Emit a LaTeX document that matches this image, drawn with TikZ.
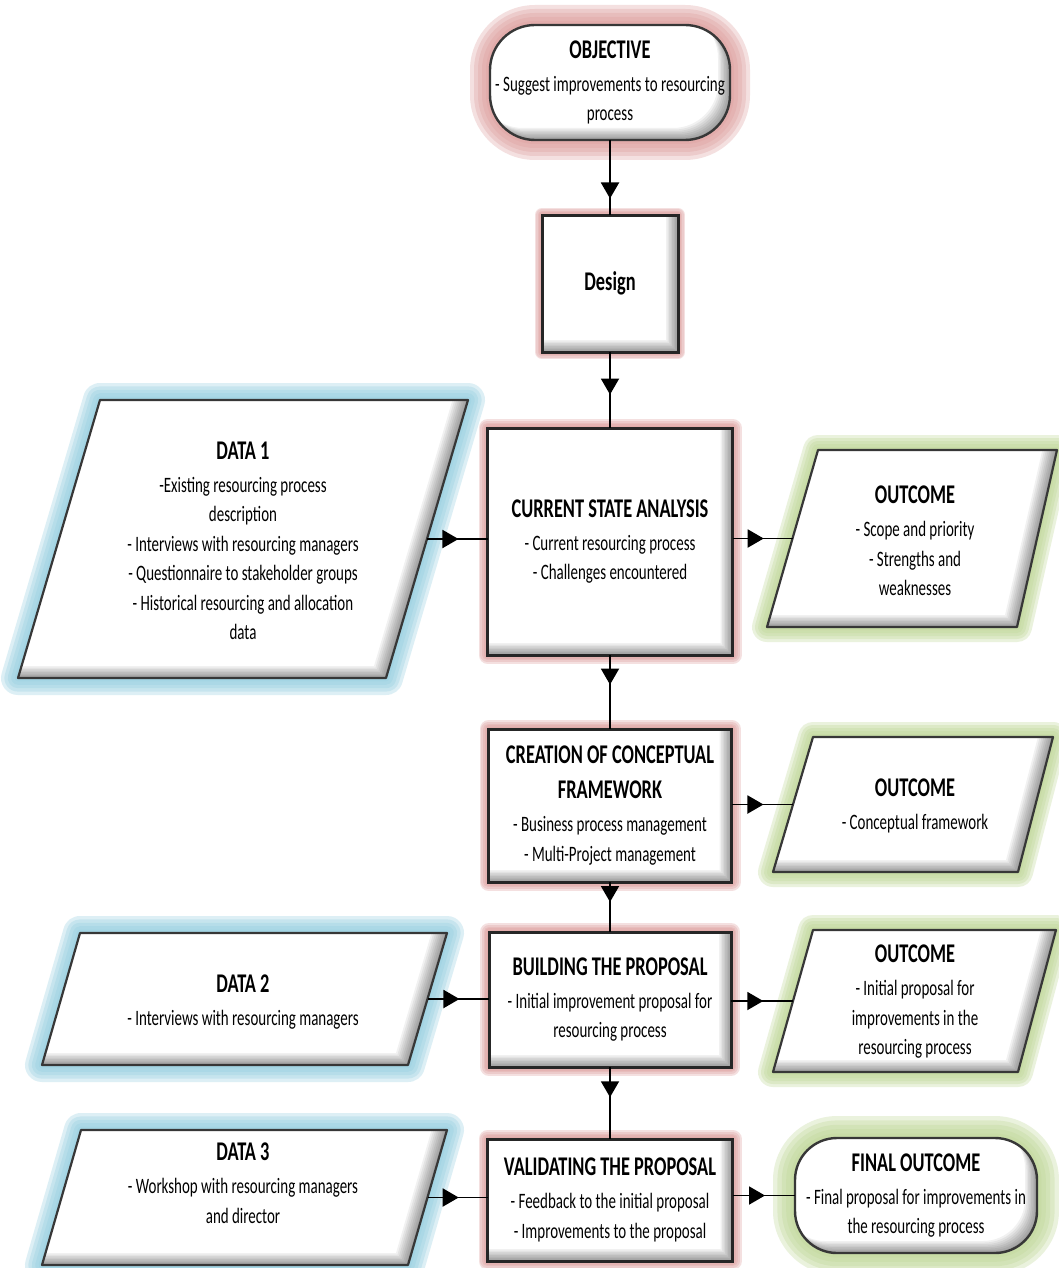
\documentclass[tikz,border=0pt]{standalone}
\usepackage{fontspec}
\setmainfont{Carlito}[FakeStretch=0.68]
\usetikzlibrary{arrows.meta,decorations.markings,calc}
\pgfdeclarelayer{bg}
\pgfsetlayers{bg,main}

\definecolor{glowpink}{RGB}{222,160,159}
\definecolor{glowblue}{RGB}{150,207,224}
\definecolor{glowgreen}{RGB}{192,215,152}
\definecolor{edgegray}{RGB}{55,55,55}

% bold heading line inside a box
\newcommand\ttl[1]{{\fontsize{27}{33}\selectfont\bfseries #1}}

% outline paths, optionally shifted by (#2,#2)
\newcommand\parpath[2]{([shift={(#2,#2)}]#1tl) -- ([shift={(#2,#2)}]#1tr) -- ([shift={(#2,#2)}]#1br) -- ([shift={(#2,#2)}]#1bl) -- cycle}
\newcommand\boxpath[2]{([shift={(#2,#2)}]#1.north west) rectangle ([shift={(#2,#2)}]#1.south east)}

% glow, white body and bottom-right bevel of a shape
\newcommand\shapefx[5]{%
  \foreach \k in {1,...,5}{%
    \pgfmathsetmacro\gw{2*#4*\k/5}%
    \draw[#3, line width=\gw pt, opacity=0.32, line join=round, #5] #1{#2}{0};}
  \fill[white, #5] #1{#2}{0};
  \begin{scope}
    \clip[#5] #1{#2}{0};
    \foreach \s in {1.5,3,...,12}{%
      \fill[black, opacity=0.055, even odd rule, #5] (-60,-60) rectangle (1200,1400) #1{#2}{-\s};}
  \end{scope}}

\tikzset{
  body/.style={font=\fontsize{22}{29.5}\selectfont, align=center, inner sep=0pt, outer sep=0pt},
  flow/.style={line width=1.9pt, black, postaction={decorate},
    decoration={markings, mark=at position #1 with {\arrow{Triangle[length=16pt,width=18pt]}}}},
}

\begin{document}
\begin{tikzpicture}[x=1pt,y=-1pt]
\useasboundingbox (0,0) rectangle (1058,1268);
\begin{pgfonlayer}{bg}
  \fill[white] (0,0) rectangle (1058,1268);
\end{pgfonlayer}

% ---- process column ----
\node[body, minimum width=240pt, minimum height=115pt] (obj) at (610,82.5)
  {\ttl{OBJECTIVE}\\[3.5pt]- Suggest improvements to resourcing\\process};
\node[body, minimum width=136pt, minimum height=137pt] (des) at (610,283.5) {\ttl{Design}};
\node[body, minimum width=245pt, minimum height=227pt] (csa) at (610,541.5)
  {\ttl{CURRENT STATE ANALYSIS}\\[3.5pt]- Current resourcing process\\- Challenges encountered};
\node[body, minimum width=243pt, minimum height=153pt] (ccf) at (610,805.5)
  {\ttl{CREATION OF CONCEPTUAL}\\[6pt]\ttl{FRAMEWORK}\\[3.5pt]- Business process management\\- Multi-Project management};
\node[body, minimum width=242pt, minimum height=135pt] (bp) at (610,999.5)
  {\ttl{BUILDING THE PROPOSAL}\\[3.5pt]- Initial improvement proposal for\\resourcing process};
\node[body, minimum width=245pt, minimum height=122pt] (vp) at (610,1200)
  {\ttl{VALIDATING THE PROPOSAL}\\[3.5pt]- Feedback to the initial proposal\\- Improvements to the proposal};
\node[body, minimum width=242pt, minimum height=115pt] (fin) at (916,1195.5)
  {\ttl{FINAL OUTCOME}\\[3.5pt]- Final proposal for improvements in\\the resourcing process};

% ---- data inputs ----
\coordinate (d1tl) at (100,400); \coordinate (d1tr) at (468,400);
\coordinate (d1br) at (386,678); \coordinate (d1bl) at (18,678);
\node[body] (d1) at (243,541)
  {\ttl{DATA 1}\\[3.5pt]-Existing resourcing process\\description\\- Interviews with resourcing managers\\- Questionnaire to stakeholder groups\\- Historical resourcing and allocation\\data};
\coordinate (d2tl) at (80,933); \coordinate (d2tr) at (447,933);
\coordinate (d2br) at (408,1065); \coordinate (d2bl) at (42,1065);
\node[body] (d2) at (243,1002.5) {\ttl{DATA 2}\\[3.5pt]- Interviews with resourcing managers};
\coordinate (d3tl) at (81,1130); \coordinate (d3tr) at (447,1130);
\coordinate (d3br) at (408,1265); \coordinate (d3bl) at (42,1265);
\node[body] (d3) at (243,1183) {\ttl{DATA 3}\\[3.5pt]- Workshop with resourcing managers\\and director};

% ---- outcomes ----
\coordinate (o1tl) at (818,450); \coordinate (o1tr) at (1057,450);
\coordinate (o1br) at (1017,627); \coordinate (o1bl) at (767,627);
\node[body] (o1) at (915,541) {\ttl{OUTCOME}\\[3.5pt]- Scope and priority\\- Strengths and\\weaknesses};
\coordinate (o2tl) at (813,737); \coordinate (o2tr) at (1053,737);
\coordinate (o2br) at (1018,872); \coordinate (o2bl) at (773,872);
\node[body] (o2) at (915,806) {\ttl{OUTCOME}\\[3.5pt]- Conceptual framework};
\coordinate (o3tl) at (813,930); \coordinate (o3tr) at (1056,930);
\coordinate (o3br) at (1018,1072); \coordinate (o3bl) at (773,1072);
\node[body] (o3) at (915,1002) {\ttl{OUTCOME}\\[3.5pt]- Initial proposal for\\improvements in the\\resourcing process};

% connection points on the slanted sides
\coordinate (d1r) at ($(d1tr)!0.5!(d1br)$);
\coordinate (d2r) at ($(d2tr)!0.5!(d2br)$);
\coordinate (d3r) at ($(d3tr)!0.5!(d3br)$);
\coordinate (o1l) at ($(o1tl)!0.5!(o1bl)$);
\coordinate (o2l) at ($(o2tl)!0.5!(o2bl)$);
\coordinate (o3l) at ($(o3tl)!0.5!(o3bl)$);

% ---- shape bodies ----
\begin{pgfonlayer}{bg}
  \shapefx{\boxpath}{obj}{glowpink}{20}{rounded corners=45pt}
  \draw[edgegray, line width=2.4pt, rounded corners=45pt] \boxpath{obj}{0};
  \shapefx{\boxpath}{fin}{glowgreen}{22}{rounded corners=42pt}
  \draw[edgegray, line width=2.4pt, rounded corners=42pt] \boxpath{fin}{0};
  \foreach \b/\g in {des/7,csa/9,ccf/9,bp/9,vp/9}{
    \shapefx{\boxpath}{\b}{glowpink}{\g}{}
    \draw[black!85, line width=3pt] \boxpath{\b}{0};
  }
  \foreach \p in {d1,d2,d3}{
    \shapefx{\parpath}{\p}{glowblue}{17}{}
    \draw[edgegray, line width=2.2pt, line join=round] \parpath{\p}{0};
  }
  \foreach \p in {o1,o2,o3}{
    \shapefx{\parpath}{\p}{glowgreen}{15}{}
    \draw[edgegray, line width=2.2pt, line join=round] \parpath{\p}{0};
  }
\end{pgfonlayer}

% ---- connectors ----
\draw[flow=0.78] (obj.south) -- (des.north);
\draw[flow=0.56] (des.south) -- (csa.north);
\draw[flow=0.4] (csa.south) -- (ccf.north);
\draw[flow=0.4] (ccf.south) -- (bp.north);
\draw[flow=0.42] (bp.south) -- (vp.north);
\draw[flow=0.52] (d1r) -- (d1r -| csa.west);
\draw[flow=0.52] (o1l -| csa.east) -- (o1l);
\draw[flow=0.52] (o2l -| ccf.east) -- (o2l);
\draw[flow=0.52] (d2r) -- (d2r -| bp.west);
\draw[flow=0.52] (o3l -| bp.east) -- (o3l);
\draw[flow=0.52] (d3r) -- (d3r -| vp.west);
\draw[flow=0.52] (fin.west -| vp.east) -- (fin.west);
\end{tikzpicture}
\end{document}
